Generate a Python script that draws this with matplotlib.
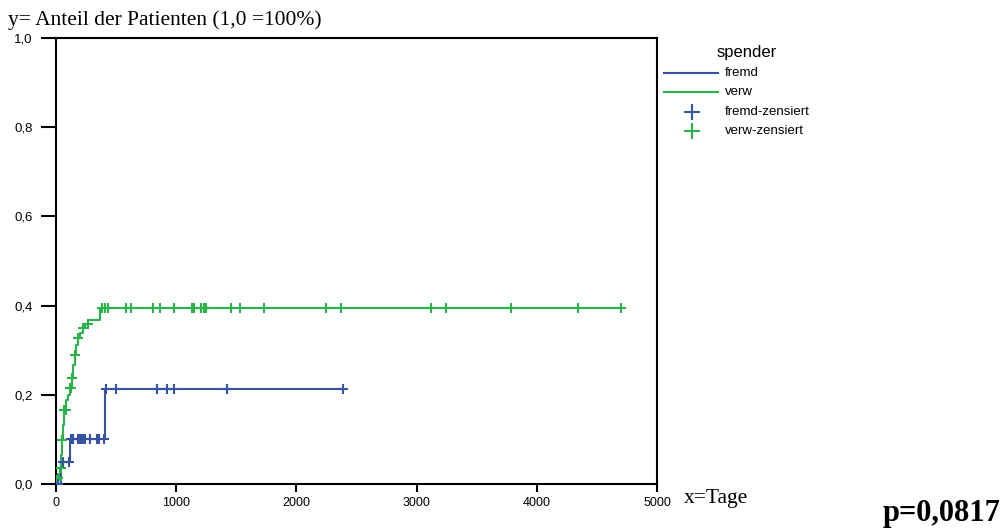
import numpy as np
import matplotlib
matplotlib.use("Agg")
import matplotlib.pyplot as plt
from matplotlib.lines import Line2D

# ---- data ----
fremd_event_t = [0, 40, 120, 410]
fremd_event_v = [0.0, 0.05, 0.10, 0.212]
fremd_cens_t = [20, 62, 108, 125, 144, 180, 196, 208, 222, 242, 280, 339, 358, 400,
                415, 500, 840, 922, 978, 1422, 2390]

verw_event_t = [0, 8, 17, 33, 42, 50, 58, 67, 83, 100, 117, 133, 142, 158, 167,
                183, 200, 225, 242, 267, 367]
verw_event_v = [0.0, 0.008, 0.013, 0.036, 0.065, 0.099, 0.132, 0.166, 0.188, 0.2,
                0.215, 0.238, 0.267, 0.289, 0.312, 0.327, 0.339, 0.35, 0.359,
                0.368, 0.394]
verw_cens_t = [5, 12, 19, 40, 50, 67, 80, 117, 122, 136, 160, 186, 228, 264,
               381, 408, 431, 583, 622, 810, 867, 983, 1131, 1144, 1208, 1228, 1247,
               1456, 1533, 1728, 2250, 2372, 3117, 3247, 3783, 4344, 4700]

x_ticks = [0, 1000, 2000, 3000, 4000, 5000]
y_ticks = [0.0, 0.2, 0.4, 0.6, 0.8, 1.0]
y_ticklabels = ["0,0", "0,2", "0,4", "0,6", "0,8", "1,0"]

legend_title = "spender"
legend_labels = ["fremd", "verw", "fremd-zensiert", "verw-zensiert"]

BLUE = "#3953a4"
GREEN = "#2bb34a"

W, H = 1005, 529
fig = plt.figure(figsize=(W / 100, H / 100), dpi=100)
ax = fig.add_axes([56/W, 45/H, 601/W, 446/H])

def step_val(et, ev, t):
    idx = np.searchsorted(np.asarray(et), np.asarray(t), side="right") - 1
    return np.asarray(ev)[idx]

def draw(et, ev, ct, color):
    t_end = max(ct)
    ts = list(et) + [t_end]
    vs = list(ev) + [ev[-1]]
    ax.step(ts, vs, where="post", color=color, lw=1.5, zorder=3)
    cy = step_val(et, ev, ct)
    ax.plot(ct, cy, linestyle="none", marker="+", markersize=7.5, mew=1.5,
            color=color, zorder=4)

draw(verw_event_t, verw_event_v, verw_cens_t, GREEN)
draw(fremd_event_t, fremd_event_v, fremd_cens_t, BLUE)

ax.set_xlim(0, 5000)
ax.set_ylim(0, 1.0)
ax.set_xticks(x_ticks)
ax.set_xticklabels([str(v) for v in x_ticks], fontsize=9, family="Liberation Sans")
ax.set_yticks(y_ticks)
ax.set_yticklabels(y_ticklabels, fontsize=9.5, family="Liberation Sans")
ax.tick_params(axis="y", length=11, width=1.5, pad=6, direction="out")
ax.tick_params(axis="x", length=6, width=1.5, pad=3, direction="out")
for s in ax.spines.values():
    s.set_linewidth(1.5)
    s.set_color("black")

fig.text(8/W, 1 - 20/H, "y= Anteil der Patienten (1,0 =100%)",
         family="Liberation Serif", fontsize=15.5, va="center", ha="left")
fig.text(684/W, 1 - 498/H, "x=Tage", family="Liberation Serif",
         fontsize=15.5, va="center", ha="left")
fig.text(1000/W, 1 - 513/H, "p=0,0817", family="Liberation Serif",
         fontsize=22, fontweight="bold", va="center", ha="right")

# ---- legend (manual, figure coordinates) ----
fig.text(747/W, 1 - 52/H, legend_title, family="Liberation Sans", fontsize=12,
         ha="center", va="center")
row_y = [73, 92, 112, 131]
colors = [BLUE, GREEN, BLUE, GREEN]
for i, (lab, col, yy) in enumerate(zip(legend_labels, colors, row_y)):
    if i < 2:
        fig.add_artist(Line2D([664/W, 718/W], [1 - yy/H, 1 - yy/H], color=col,
                              lw=1.5, transform=fig.transFigure))
    else:
        fig.add_artist(Line2D([692/W], [1 - yy/H], color=col, linestyle="none",
                              marker="+", markersize=11, mew=1.5,
                              transform=fig.transFigure))
    fig.text(725/W, 1 - yy/H, lab, family="Liberation Sans", fontsize=9.5,
             ha="left", va="center")

fig.savefig("out.png", dpi=100)
